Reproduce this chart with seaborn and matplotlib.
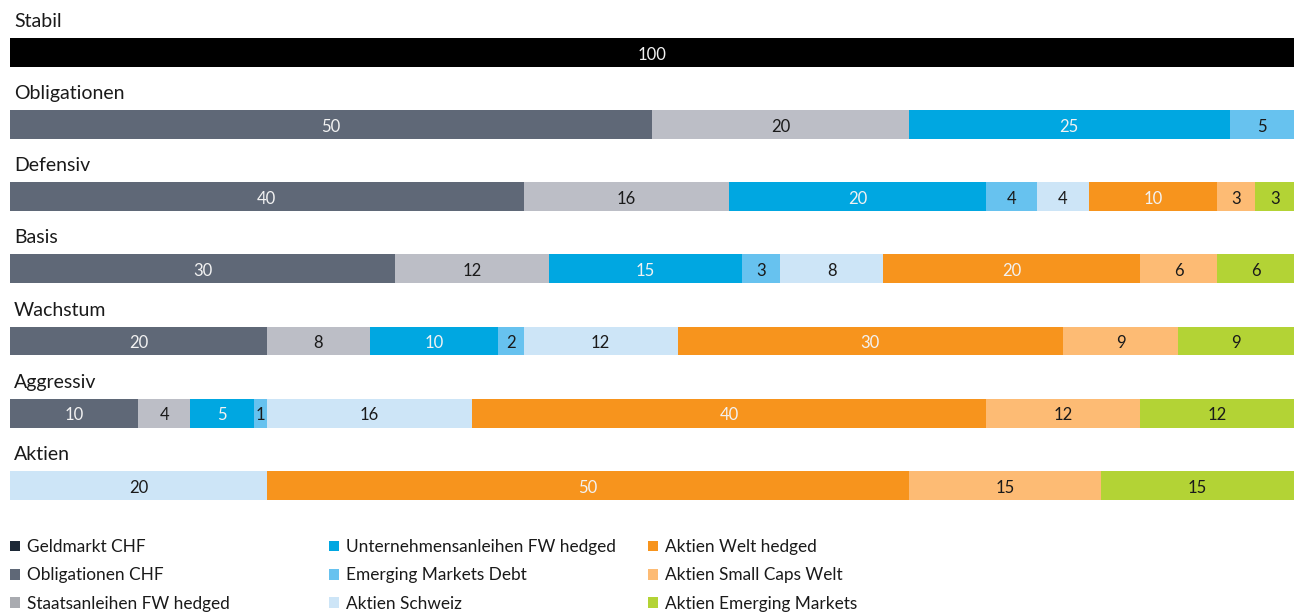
import numpy as np
import pandas as pd
import matplotlib
matplotlib.use("Agg")
import matplotlib.pyplot as plt
from matplotlib.patches import Patch
import seaborn as sns

# ========== DATA ==========
portfolios = ["Stabil", "Obligationen", "Defensiv", "Basis", "Wachstum", "Aggressiv", "Aktien"]
series_names = [
    "Geldmarkt CHF", "Obligationen CHF", "Staatsanleihen FW hedged",
    "Unternehmensanleihen FW hedged", "Emerging Markets Debt", "Aktien Schweiz",
    "Aktien Welt hedged", "Aktien Small Caps Welt", "Aktien Emerging Markets",
]
geldmarkt_chf = [100, 0, 0, 0, 0, 0, 0]
obligationen_chf = [0, 50, 40, 30, 20, 10, 0]
staatsanleihen = [0, 20, 16, 12, 8, 4, 0]
unternehmensanleihen = [0, 25, 20, 15, 10, 5, 0]
em_debt = [0, 5, 4, 3, 2, 1, 0]
aktien_schweiz = [0, 0, 4, 8, 12, 16, 20]
aktien_welt = [0, 0, 10, 20, 30, 40, 50]
small_caps = [0, 0, 3, 6, 9, 12, 15]
aktien_em = [0, 0, 3, 6, 9, 12, 15]

values = [geldmarkt_chf, obligationen_chf, staatsanleihen, unternehmensanleihen,
          em_debt, aktien_schweiz, aktien_welt, small_caps, aktien_em]

# ========== STYLE ==========
bar_colors = ["#000000", "#5f6877", "#bcbec6", "#00a7e1", "#67c2ef",
              "#cde5f7", "#f7941d", "#fdbb74", "#b3d335"]
legend_colors = ["#1c2836", "#5f6877", "#a9abb0", "#00a7e1", "#67c2ef",
                 "#cde5f7", "#f7941d", "#fdbb74", "#b3d335"]
label_colors = ["#f2f2f2", "#f2f2f2", "#1a1a1a", "#f2f2f2", "#1a1a1a",
                "#1a1a1a", "#f2f2f2", "#1a1a1a", "#1a1a1a"]

sns.set_theme(style="white")
plt.rcParams["font.family"] = ["Lato", "DejaVu Sans"]

W, H = 1294, 613
fig = plt.figure(figsize=(W / 100, H / 100), dpi=100)
ax = fig.add_axes([10 / W, (H - 520) / H, 1 - 10 / W, 520 / H])

df = pd.DataFrame(np.array(values).T, columns=series_names)
df["Portfolio"] = portfolios
cum = df[series_names].cumsum(axis=1)

# draw cumulative bars from right to left so each one covers the next
for i in range(len(series_names) - 1, -1, -1):
    name = series_names[i]
    plot_df = pd.DataFrame({"Portfolio": portfolios, "cum": cum[name]})
    sns.barplot(data=plot_df, x="cum", y="Portfolio", order=portfolios,
                color=bar_colors[i], saturation=1, width=0.40,
                errorbar=None, linewidth=0, ax=ax)

# segment labels + row titles
for r, p in enumerate(portfolios):
    for i, name in enumerate(series_names):
        v = df.loc[r, name]
        if v <= 0:
            continue
        xc = cum.loc[r, name] - v / 2
        ax.text(xc, r + 0.03, f"{v}", ha="center", va="center", fontsize=12,
                color=label_colors[i])
    ax.text(0.3, r - 0.43, p, ha="left", va="center", fontsize=14, color="#1a1a1a")

ax.set_xlim(0, 100)
ax.set_ylim(6.48, -0.727)
ax.axis("off")

# ========== LEGEND ==========
col_x = [10, 329, 648]
for c in range(3):
    handles = [Patch(facecolor=legend_colors[k], edgecolor="none")
               for k in range(c * 3, c * 3 + 3)]
    labels = series_names[c * 3:c * 3 + 3]
    fig.legend(handles, labels, loc="upper left",
               bbox_to_anchor=(col_x[c] / W, 1 - 539 / H),
               frameon=False, fontsize=12.4, handlelength=0.58, handleheight=0.58,
               handletextpad=0.42, labelspacing=0.72, borderpad=0,
               borderaxespad=0, labelcolor="#1a1a1a")

fig.savefig("out.png", dpi=100)
